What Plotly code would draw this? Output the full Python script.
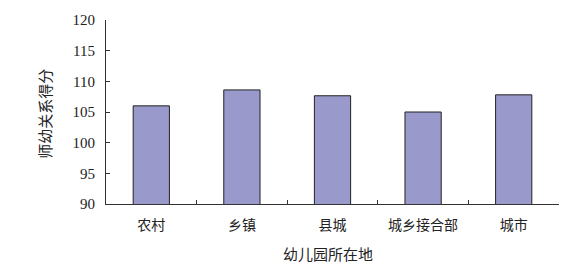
import plotly.graph_objects as go

categories = ["农村", "乡镇", "县城", "城乡接合部", "城市"]
scores = [106.0, 108.6, 107.65, 105.0, 107.8]
y_ticks = [90, 95, 100, 105, 110, 115, 120]

FONT = "'Liberation Serif', 'Times New Roman', serif"
CJK = "'Noto Sans CJK SC', 'Liberation Serif', serif"

fig = go.Figure()
fig.add_trace(go.Bar(
    x=categories, y=scores,
    marker=dict(color="#9999CC", line=dict(color="#222222", width=1)),
    width=0.4,
))

fig.update_layout(
    width=588, height=274,
    margin=dict(l=106, r=29, t=15, b=70),
    paper_bgcolor="white", plot_bgcolor="white",
    showlegend=False,
    font=dict(family=FONT, size=14, color="#222222"),
    xaxis=dict(
        type="category",
        showline=True, linecolor="#333333", linewidth=1,
        ticks="inside", ticklen=4, tickcolor="#333333",
        tickson="boundaries",
        ticklabelstandoff=8,
        tickfont=dict(family=CJK, size=14, color="#222222"),
        showgrid=False, zeroline=False,
    ),
    yaxis=dict(
        range=[90, 120], tickvals=y_ticks,
        showline=True, linecolor="#333333", linewidth=1,
        ticks="inside", ticklen=4, tickcolor="#333333",
        ticklabelstandoff=7,
        tickfont=dict(family=FONT, size=15, color="#222222"),
        showgrid=False, zeroline=False,
    ),
    annotations=[
        dict(text="幼儿园所在地", xref="paper", yref="paper", x=0.49, y=-0.27,
             xanchor="center", yanchor="middle", showarrow=False,
             font=dict(family=CJK, size=15, color="#222222")),
        dict(text="师幼关系得分", xref="paper", yref="paper", x=-0.135, y=0.49,
             xanchor="center", yanchor="middle", showarrow=False, textangle=-90,
             font=dict(family=CJK, size=15, color="#222222")),
    ],
)

fig.write_html("out.html")
